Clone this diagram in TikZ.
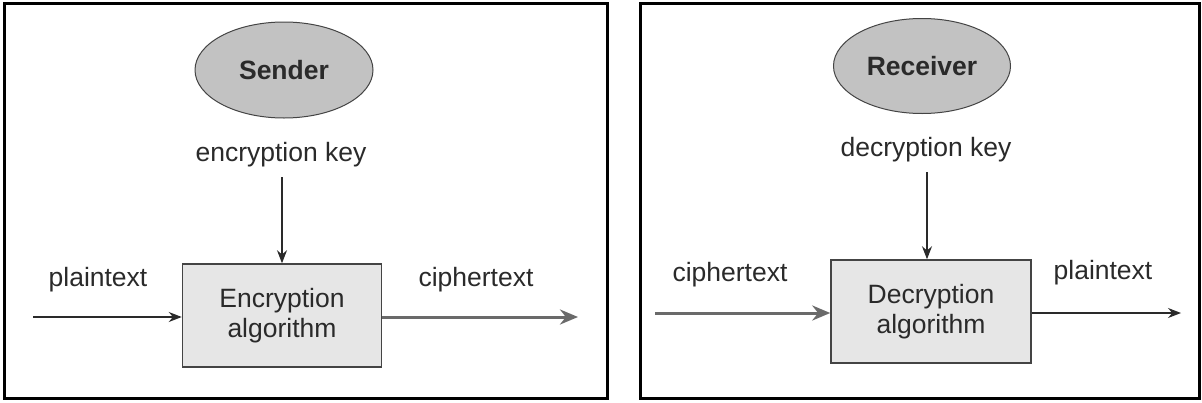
\documentclass[tikz,border=0pt]{standalone}
\usepackage{fontspec}
\setmainfont{Liberation Sans}
\usetikzlibrary{shapes.geometric,arrows.meta}
\definecolor{txt}{HTML}{2A2A2A}
\definecolor{ellfill}{HTML}{C2C2C2}
\definecolor{boxfill}{HTML}{E6E6E6}
\definecolor{boxline}{HTML}{444444}
\definecolor{thickgray}{HTML}{6A6A6A}
\tikzset{
  frame/.style={draw=black,line width=3pt},
  party/.style={ellipse,draw=boxline,fill=ellfill,line width=1pt,text=txt,font=\fontsize{26.5}{30}\selectfont\bfseries},
  algbox/.style={rectangle,draw=boxline,fill=boxfill,line width=1.5pt,text=txt,align=center,font=\fontsize{26.5}{30}\selectfont},
  lbl/.style={text=txt,inner sep=0pt,font=\fontsize{26.5}{30}\selectfont},
  thinarrow/.style={draw=txt,line width=1.2pt,-{Stealth[length=13pt,width=10pt]}},
  thickarrow/.style={draw=thickgray,line width=3pt,-{Stealth[length=18pt,width=15pt]}}
}
\begin{document}
\begin{tikzpicture}[x=1pt,y=-1pt]
\useasboundingbox (0,0) rectangle (1202,402);
\fill[white] (0,0) rectangle (1202,402);
% left panel
\draw[frame] (4,3) rectangle (607,398);
\node[party,minimum width=178pt,minimum height=96pt] (sender) at (284,70) {Sender};
\node[lbl] (enckey) at (281,155) {encryption key};
\node[algbox,minimum width=199pt,minimum height=103pt] (encbox) at (282,315.5) {Encryption\\algorithm};
\node[lbl] (plain1) at (98,280) {plaintext};
\node[lbl] (cipher1) at (476,280) {ciphertext};
\coordinate (k1) at (282,177);
\coordinate (in1) at (33,317);
\coordinate (out1) at (578,317);
\draw[thinarrow] (k1) -- (k1 |- encbox.north);
\draw[thinarrow] (in1) -- (in1 -| encbox.west);
\draw[thickarrow] (out1 -| encbox.east) -- (out1);
% right panel
\draw[frame] (640,3) rectangle (1199,398);
\node[party,minimum width=177pt,minimum height=95pt] (receiver) at (922,66) {Receiver};
\node[lbl] (deckey) at (926,150) {decryption key};
\node[algbox,minimum width=200pt,minimum height=103pt] (decbox) at (931,311.5) {Decryption\\algorithm};
\node[lbl] (cipher2) at (730,275) {ciphertext};
\node[lbl] (plain2) at (1103,273) {plaintext};
\coordinate (k2) at (927,172);
\coordinate (in2) at (655,313);
\coordinate (out2) at (1181,313);
\draw[thinarrow] (k2) -- (k2 |- decbox.north);
\draw[thickarrow] (in2) -- (in2 -| decbox.west);
\draw[thinarrow] (out2 -| decbox.east) -- (out2);
\end{tikzpicture}
\end{document}
